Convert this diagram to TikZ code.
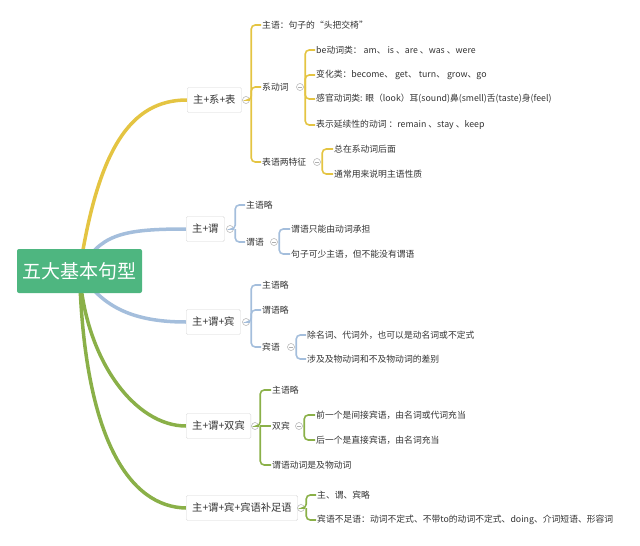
\documentclass[tikz,border=0pt]{standalone}
\usepackage{fontspec}
\setmainfont{Noto Sans CJK SC}
\pgfdeclarelayer{bg}
\pgfsetlayers{bg,main}
\definecolor{ycol}{RGB}{228,196,66}
\definecolor{bcol}{RGB}{164,190,220}
\definecolor{gcol}{RGB}{138,176,72}
\definecolor{rootgreen}{RGB}{78,182,128}
\definecolor{textgray}{RGB}{51,51,51}
\definecolor{boxgray}{RGB}{215,215,215}
\definecolor{foldgray}{RGB}{175,175,175}
\tikzset{
  leaf/.style={anchor=west, inner sep=1pt, text=textgray, font=\fontsize{8.8}{10}\selectfont},
  topic/.style={draw=boxgray, fill=white, rounded corners=1.5pt, inner xsep=6pt, inner ysep=0pt,
    minimum height=25pt, text=textgray, font=\fontsize{10.3}{12}\selectfont, anchor=west},
  rootbox/.style={fill=rootgreen, rounded corners=2pt, minimum width=125pt, minimum height=44pt,
    inner sep=0pt, text=white, font=\fontsize{19}{22}\selectfont},
  fold/.style={circle, draw=foldgray, fill=white, line width=0.5pt, minimum size=7pt, inner sep=0pt,
    path picture={\draw[foldgray, line width=0.5pt]
      ([xshift=-2pt]path picture bounding box.center) -- ([xshift=2pt]path picture bounding box.center);}},
  mainline/.style={line width=3.5pt, line cap=round},
  brline/.style={line width=1.6pt, rounded corners=4pt},
}
\begin{document}
\begin{tikzpicture}[x=1pt,y=-1pt]
\useasboundingbox (0,0) rectangle (640,546);

% root
\node[rootbox] (root) at (79.5,271) {五大基本句型};

% main topics
\node[topic] (b1) at (187,100) {主+系+表};
\node[topic] (b2) at (186,229) {主+谓};
\node[topic] (b3) at (186,322) {主+谓+宾};
\node[topic] (b4) at (186,426) {主+谓+双宾};
\node[topic] (b5) at (186,508) {主+谓+宾+宾语补足语};

% main curves
\begin{pgfonlayer}{bg}
\draw[mainline, ycol] (root.center) .. controls (98,150) and (130,100) .. (b1.west);
\draw[mainline, bcol] (root.center) .. controls (100,235) and (120,229) .. (b2.west);
\draw[mainline, bcol] (root.center) .. controls (100,305) and (130,322) .. (b3.west);
\draw[mainline, gcol] (root.center) .. controls (85,360) and (135,426) .. (b4.west);
\draw[mainline, gcol] (root.center) .. controls (84,440) and (130,507) .. (b5.west);
\end{pgfonlayer}

% ---------- branch 1 ----------
\node[fold] (f1) at (246,100) {};
\coordinate (k1) at ([xshift=1.5pt]f1.east);
\node[leaf] (c11) at (261,25) {主语：句子的“头把交椅”};
\node[leaf] (c12) at (261,87) {系动词};
\node[leaf] (c13) at (261,162) {表语两特征};
\draw[brline, ycol] (f1.east) -- (k1) |- (c11.west);
\draw[brline, ycol] (k1) |- (c12.west);
\draw[brline, ycol] (k1) |- (c13.west);

\node[fold] (f12) at (300,87) {};
\coordinate (k12) at ([xshift=1.5pt]f12.east);
\node[leaf] (c121) at (315,50) {be动词类： am、 is 、are 、was 、were};
\node[leaf] (c122) at (315,75) {变化类：become、 get、 turn、 grow、go};
\node[leaf] (c123) at (315,99) {感官动词类: 眼（look）耳(sound)鼻(smell)舌(taste)身(feel)};
\node[leaf] (c124) at (315,125) {表示延续性的动词 ：remain 、stay 、keep};
\draw[brline, ycol] (k12) |- (c121.west);
\draw[brline, ycol] (k12) |- (c122.west);
\draw[brline, ycol] (k12) |- (c123.west);
\draw[brline, ycol] (k12) |- (c124.west);

\node[fold] (f13) at (317,162) {};
\coordinate (k13) at ([xshift=1.5pt]f13.east);
\node[leaf] (c131) at (333,149) {总在系动词后面};
\node[leaf] (c132) at (333,174) {通常用来说明主语性质};
\draw[brline, ycol] (k13) |- (c131.west);
\draw[brline, ycol] (k13) |- (c132.west);

% ---------- branch 2 ----------
\node[fold] (f2) at (230,229) {};
\coordinate (k2) at ([xshift=1.5pt]f2.east);
\node[leaf] (c21) at (245,205) {主语略};
\node[leaf] (c22) at (245,242) {谓语};
\draw[brline, bcol] (f2.east) -- (k2) |- (c21.west);
\draw[brline, bcol] (k2) |- (c22.west);

\node[fold] (f22) at (274,242) {};
\coordinate (k22) at ([xshift=1.5pt]f22.east);
\node[leaf] (c221) at (290,229) {谓语只能由动词承担};
\node[leaf] (c222) at (290,254) {句子可少主语，但不能没有谓语};
\draw[brline, bcol] (k22) |- (c221.west);
\draw[brline, bcol] (k22) |- (c222.west);

% ---------- branch 3 ----------
\node[fold] (f3) at (246,322) {};
\coordinate (k3) at ([xshift=1.5pt]f3.east);
\node[leaf] (c31) at (261,285) {主语略};
\node[leaf] (c32) at (261,310) {谓语略};
\node[leaf] (c33) at (261,347) {宾语};
\draw[brline, bcol] (f3.east) -- (k3) |- (c31.west);
\draw[brline, bcol] (k3) |- (c32.west);
\draw[brline, bcol] (k3) |- (c33.west);

\node[fold] (f33) at (291,347) {};
\coordinate (k33) at ([xshift=1.5pt]f33.east);
\node[leaf] (c331) at (306,335) {除名词、代词外，也可以是动名词或不定式};
\node[leaf] (c332) at (306,359) {涉及及物动词和不及物动词的差别};
\draw[brline, bcol] (k33) |- (c331.west);
\draw[brline, bcol] (k33) |- (c332.west);

% ---------- branch 4 ----------
\node[fold] (f4) at (255,426) {};
\coordinate (k4) at ([xshift=1.5pt]f4.east);
\node[leaf] (c41) at (271,390) {主语略};
\node[leaf] (c42) at (271,426) {双宾};
\node[leaf] (c43) at (271,465) {谓语动词是及物动词};
\draw[brline, gcol] (f4.east) -- (k4) |- (c41.west);
\draw[brline, gcol] (k4) -- (c42.west);
\draw[brline, gcol] (k4) |- (c43.west);

\node[fold] (f42) at (299,426) {};
\coordinate (k42) at ([xshift=1.5pt]f42.east);
\node[leaf] (c421) at (315,415) {前一个是间接宾语，由名词或代词充当};
\node[leaf] (c422) at (315,440) {后一个是直接宾语，由名词充当};
\draw[brline, gcol] (k42) |- (c421.west);
\draw[brline, gcol] (k42) |- (c422.west);

% ---------- branch 5 ----------
\node[fold] (f5) at (301,508) {};
\coordinate (k5) at ([xshift=1.5pt]f5.east);
\node[leaf] (c51) at (316,495) {主、谓、宾略};
\node[leaf] (c52) at (316,520) {宾语不足语：动词不定式、不带to的动词不定式、doing、介词短语、形容词};
\draw[brline, gcol] (f5.east) -- (k5) |- (c51.west);
\draw[brline, gcol] (k5) |- (c52.west);
\end{tikzpicture}
\end{document}
